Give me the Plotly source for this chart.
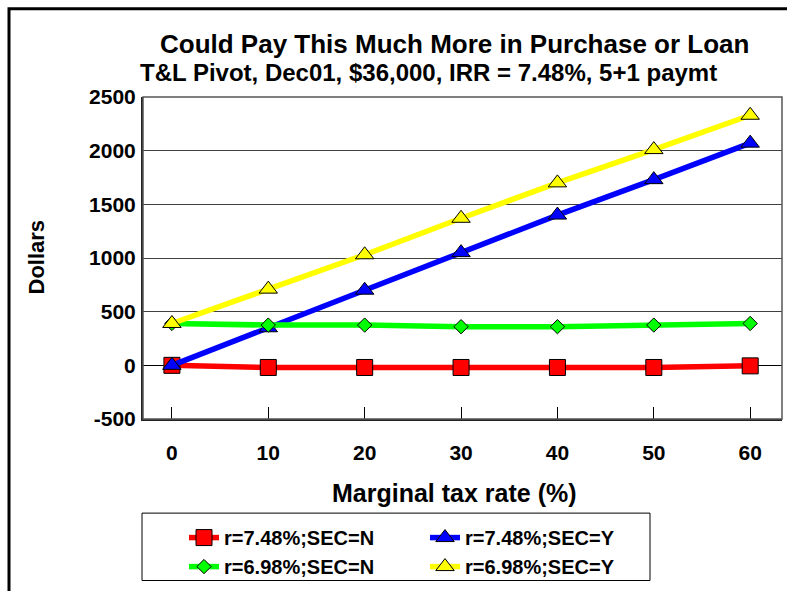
import plotly.graph_objects as go

# Marginal tax rate (%) on the x axis
tax_rates = [0, 10, 20, 30, 40, 50, 60]

# Extra dollars that could be paid, per scenario
r748_sec_n = [0, -20, -20, -20, -20, -20, -5]
r748_sec_y = [0, 350, 700, 1050, 1400, 1730, 2070]
r698_sec_n = [390, 375, 375, 360, 360, 375, 390]
r698_sec_y = [390, 710, 1030, 1370, 1700, 2010, 2330]

series_names = ["r=7.48%;SEC=N", "r=7.48%;SEC=Y", "r=6.98%;SEC=N", "r=6.98%;SEC=Y"]
y_ticks = [-500, 0, 500, 1000, 1500, 2000, 2500]
y_tick_text = ["-500", "0", "500", "1000", "1500", "2000", "2500"]

title_text = "Could Pay This Much More in Purchase or Loan"
subtitle_text = "T&L Pivot, Dec01, $36,000, IRR = 7.48%, 5+1 paymt"
x_title = "Marginal tax rate (%)"
y_title = "Dollars"

FONT = "Liberation Sans, Arial, sans-serif"

styles = [
    dict(color="#FF0000", symbol="square", size=16),
    dict(color="#0000FF", symbol="triangle-up", size=16),
    dict(color="#00FF00", symbol="diamond", size=11),
    dict(color="#FFFF00", symbol="triangle-up", size=16),
]
values = [r748_sec_n, r748_sec_y, r698_sec_n, r698_sec_y]

fig = go.Figure()
for name, ys, st in zip(series_names, values, styles):
    fig.add_trace(go.Scatter(
        x=tax_rates, y=ys, name=name, mode="lines+markers",
        line=dict(color=st["color"], width=5.5),
        marker=dict(symbol=st["symbol"], size=st["size"], color=st["color"],
                    line=dict(color="black", width=1)),
    ))

W, H = 787, 591
L, R, T, B = 143, 5, 97, 169
pw, ph = W - L - R, H - T - B


def px(xp):
    return (xp - L) / pw


def py(yp):
    return (H - B - yp) / ph


fig.update_layout(
    width=W, height=H,
    margin=dict(l=L, r=R, t=T, b=B, pad=0),
    paper_bgcolor="white", plot_bgcolor="white",
    font=dict(family=FONT, color="black", size=20, weight="bold"),
    showlegend=True,
    legend=dict(
        orientation="h", x=px(184), y=py(522), xanchor="left", yanchor="top",
        bgcolor="rgba(0,0,0,0)", borderwidth=0,
        entrywidth=196, entrywidthmode="pixels",
        font=dict(family=FONT, size=20, weight="bold"),
        traceorder="normal",
    ),
    xaxis=dict(
        range=[-3.0, 63.3], tickmode="array", tickvals=tax_rates,
        ticks="inside", ticklen=12, tickcolor="black", tickwidth=1,
        showgrid=False, zeroline=False,
        showline=True, linecolor="#222222", linewidth=2,
        tickfont=dict(family=FONT, size=21, weight="bold"),
        ticklabelstandoff=14,
    ),
    yaxis=dict(
        range=[-500, 2500], tickmode="array", tickvals=y_ticks, ticktext=y_tick_text,
        ticks="", showgrid=True, gridcolor="#404040", gridwidth=1,
        zeroline=True, zerolinecolor="black", zerolinewidth=1,
        showline=True, linecolor="#222222", linewidth=2,
        tickfont=dict(family=FONT, size=21, weight="bold"),
        ticklabelstandoff=1,
    ),
    shapes=[
        # thin frame around the plotting area
        dict(type="rect", xref="paper", yref="paper", x0=0, x1=1, y0=0, y1=1,
             line=dict(color="#555555", width=1.5), layer="above"),
        # legend box
        dict(type="rect", xref="paper", yref="paper",
             x0=px(142), x1=px(650), y0=py(585), y1=py(517),
             line=dict(color="black", width=1)),
        # outer chart border
        dict(type="rect", xref="paper", yref="paper",
             x0=px(9), x1=px(800), y0=py(620), y1=py(8),
             line=dict(color="black", width=3)),
    ],
    annotations=[
        dict(text=title_text, xref="paper", yref="paper", x=px(454), y=py(44),
             xanchor="center", yanchor="middle", showarrow=False,
             font=dict(family=FONT, size=26, weight="bold")),
        dict(text=subtitle_text, xref="paper", yref="paper", x=px(428), y=py(72),
             xanchor="center", yanchor="middle", showarrow=False,
             font=dict(family=FONT, size=24, weight="bold")),
        dict(text=x_title, xref="paper", yref="paper", x=px(454), y=py(497),
             xanchor="center", yanchor="middle", showarrow=False,
             font=dict(family=FONT, size=25, weight="bold")),
        dict(text=y_title, xref="paper", yref="paper", x=px(37), y=py(259),
             xanchor="center", yanchor="middle", showarrow=False, textangle=-90,
             font=dict(family=FONT, size=22, weight="bold")),
    ],
)

fig.write_html("out.html")
